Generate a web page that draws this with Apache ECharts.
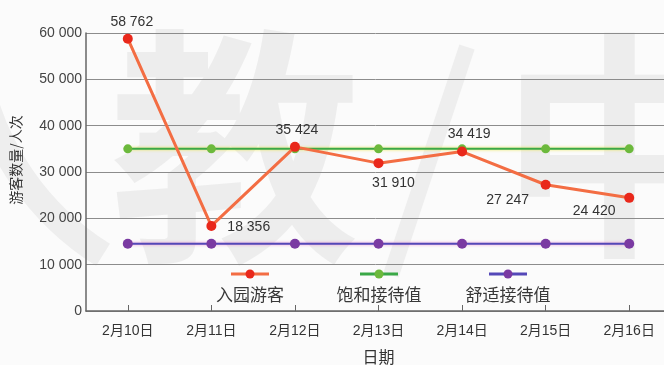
<!DOCTYPE html>
<html>
<head>
<meta charset="utf-8">
<script src="https://cdn.jsdelivr.net/npm/echarts@6/dist/echarts.min.js"></script>
<style>
  html, body { margin: 0; padding: 0; background: #fbfbfb; }
  #chart { width: 664px; height: 365px; }
</style>
</head>
<body>
<div id="chart"></div>
<script>
// Park visitors vs. capacity, 10–16 Feb
const dates = ['2月10日', '2月11日', '2月12日', '2月13日', '2月14日', '2月15日', '2月16日'];
const visitors = [58762, 18356, 35424, 31910, 34419, 27247, 24420];
const saturation = [35000, 35000, 35000, 35000, 35000, 35000, 35000];
const comfort = [14500, 14500, 14500, 14500, 14500, 14500, 14500];
const seriesNames = ['入园游客', '饱和接待值', '舒适接待值'];

const FONT = "'Liberation Sans', 'Noto Sans CJK SC', sans-serif";
const CJK = "'Noto Sans CJK SC', sans-serif";

const fmt = v => String(v).replace(/\B(?=(\d{3})+(?!\d))/g, ' ');

// where each visitor value label sits relative to its point
const visitorLabelPlacement = [
  { position: 'top', offset: [4, 0] },
  { position: 'right', offset: [6, 1] },
  { position: 'top', offset: [2, 0] },
  { position: 'bottom', offset: [15, 3] },
  { position: 'top', offset: [7, 0] },
  { position: 'bottom', offset: [-38, -2] },
  { position: 'bottom', offset: [-35, -4] }
];

const palette = [
  { line: '#f36d43', dot: '#e9281b' },
  { line: '#3aa847', dot: '#6cb93c' },
  { line: '#5448b8', dot: '#7a3aa2' }
];

// small line-with-dot swatch used above each legend name
function swatch(c) {
  const cv = document.createElement('canvas');
  cv.width = 40; cv.height = 14;
  const g = cv.getContext('2d');
  g.strokeStyle = c.line; g.lineWidth = 3;
  g.beginPath(); g.moveTo(1, 7); g.lineTo(39, 7); g.stroke();
  g.fillStyle = c.dot;
  g.beginPath(); g.arc(20, 7, 4.5, 0, Math.PI * 2); g.fill();
  return cv;
}

const rich = { t: { fontFamily: CJK, fontSize: 17, color: '#383838', width: 110, lineHeight: 28, align: 'center' } };
palette.forEach((c, i) => {
  rich['i' + i] = { width: 40, height: 14, lineHeight: 14, align: 'center', backgroundColor: { image: swatch(c) } };
});

const chart = echarts.init(document.getElementById('chart'), null, { renderer: 'canvas' });

chart.setOption({
  animation: false,
  backgroundColor: '#fbfbfb',
  textStyle: { fontFamily: FONT },
  graphic: {
    elements: [
      { type: 'arc', z: -10, silent: true,
        shape: { cx: 250, cy: 20, r: 277, startAngle: 2.13, endAngle: 2.95 },
        style: { stroke: '#eeeeee', lineWidth: 26, fill: null } },
      { type: 'text', z: -10, silent: true, left: 110, top: 22,
        style: { text: '教', font: "bold 250px 'Noto Sans CJK SC'", fill: '#ededed' } },
      { type: 'line', z: -10, silent: true,
        shape: { x1: 467, y1: 47, x2: 391, y2: 275 },
        style: { stroke: '#eeeeee', lineWidth: 16 } },
      { type: 'text', z: -10, silent: true, left: 500, top: 26,
        style: { text: '中', font: "bold 240px 'Noto Sans CJK SC'", fill: '#ededed' } }
    ]
  },
  // plot runs slightly past the right edge so the last category sits near it
  grid: { left: 86, right: -7, top: 33, bottom: 54, containLabel: false, outerBoundsMode: 'none' },
  legend: {
    data: seriesNames,
    left: 190,
    top: 267,
    padding: 0,
    itemGap: 14,
    itemWidth: 0,
    itemHeight: 0,
    icon: 'rect',
    itemStyle: { opacity: 0 },
    lineStyle: { opacity: 0 },
    selectedMode: false,
    formatter: name => '{i' + seriesNames.indexOf(name) + '|}\n{t|' + name + '}',
    textStyle: { rich }
  },
  xAxis: {
    type: 'category',
    data: dates,
    boundaryGap: true,
    name: '日期',
    nameLocation: 'middle',
    nameGap: 38,
    nameTextStyle: { fontFamily: CJK, fontSize: 16, color: '#333' },
    axisLine: { lineStyle: { color: '#666', width: 1.5 } },
    axisTick: { show: true, inside: true, length: 6, alignWithLabel: true, lineStyle: { color: '#666' } },
    axisLabel: { fontSize: 14, color: '#333', margin: 13, fontFamily: FONT }
  },
  yAxis: {
    type: 'value',
    min: 0,
    max: 60000,
    interval: 10000,
    name: '游客数量/人次',
    nameLocation: 'middle',
    nameGap: 63,
    nameTextStyle: { fontFamily: CJK, fontSize: 14, color: '#333', padding: [0, 0, 0, 24] },
    axisLine: { show: true, lineStyle: { color: '#666', width: 1.5 } },
    axisTick: { show: false },
    axisLabel: { fontSize: 14, color: '#444', margin: 4, formatter: v => fmt(v), fontFamily: FONT },
    splitLine: { lineStyle: { color: '#8c8c8c', width: 1 } }
  },
  series: [
    {
      name: seriesNames[0],
      type: 'line',
      z: 5,
      data: visitors.map((v, i) => ({ value: v, label: visitorLabelPlacement[i] })),
      symbol: 'circle',
      symbolSize: 10,
      itemStyle: { color: palette[0].dot },
      lineStyle: { color: palette[0].line, width: 3 },
      label: { show: true, formatter: p => fmt(p.value), fontSize: 14, color: '#333', fontFamily: FONT }
    },
    {
      name: seriesNames[1],
      type: 'line',
      z: 4,
      data: saturation,
      symbol: 'circle',
      symbolSize: 9,
      itemStyle: { color: palette[1].dot },
      lineStyle: { color: palette[1].line, width: 2, shadowColor: 'rgba(235,230,60,0.95)', shadowBlur: 3 }
    },
    {
      name: seriesNames[2],
      type: 'line',
      z: 4,
      data: comfort,
      symbol: 'circle',
      symbolSize: 10,
      itemStyle: { color: palette[2].dot },
      lineStyle: { color: palette[2].line, width: 2, shadowColor: 'rgba(235,120,200,0.8)', shadowBlur: 3 }
    }
  ]
});
</script>
</body>
</html>
